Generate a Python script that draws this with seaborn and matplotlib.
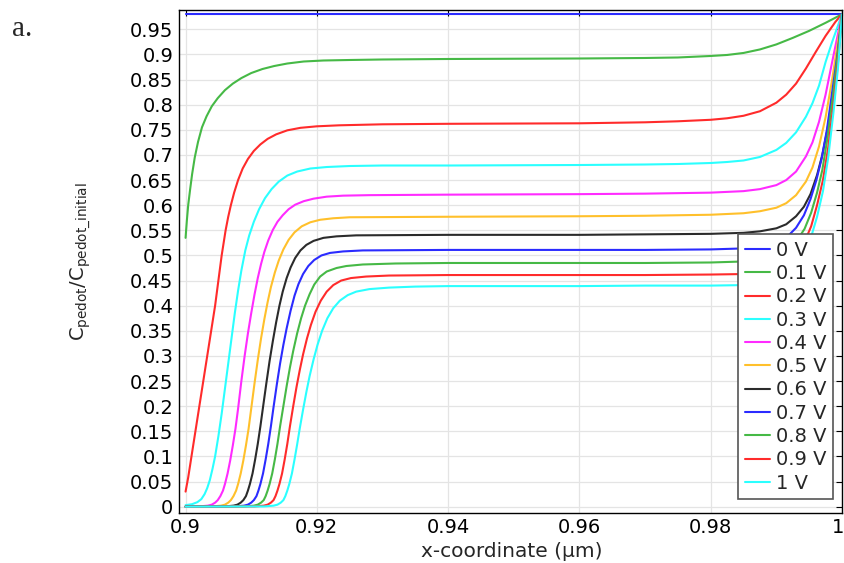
import numpy as np
import pandas as pd
import matplotlib
matplotlib.use("Agg")
import matplotlib.pyplot as plt
from matplotlib.transforms import ScaledTranslation
import seaborn as sns

# values (x in um, y = C_pedot / C_pedot_initial)
labels = ["0 V", "0.1 V", "0.2 V", "0.3 V", "0.4 V", "0.5 V",
          "0.6 V", "0.7 V", "0.8 V", "0.9 V", "1 V"]
colors = ["#2b2bff", "#46b946", "#ff2b2b", "#2bffff", "#ff2bff", "#ffc02b",
          "#2b2b2b", "#2b2bff", "#46b946", "#ff2b2b", "#2bffff"]

x_00 = [0.9, 1.0]
y_00 = [0.98, 0.98]

x_01 = [0.9, 0.9002, 0.9004, 0.9007, 0.901, 0.9014, 0.9019, 0.9025, 0.9032, 0.904,
        0.9049, 0.906, 0.9072, 0.9085, 0.91, 0.9117, 0.9135, 0.9155, 0.918, 0.921,
        0.925, 0.93, 0.94, 0.96, 0.97, 0.975, 0.98, 0.9825, 0.985, 0.9875,
        0.99, 0.9925, 0.995, 0.9975, 1.0]
y_01 = [0.535, 0.57, 0.60, 0.632, 0.662, 0.695, 0.726, 0.755, 0.777, 0.797,
        0.813, 0.829, 0.842, 0.853, 0.863, 0.871, 0.877, 0.882, 0.886, 0.888,
        0.889, 0.890, 0.891, 0.892, 0.893, 0.894, 0.897, 0.899, 0.903, 0.910,
        0.920, 0.933, 0.947, 0.963, 0.98]

x_02 = [0.9, 0.9004, 0.9009, 0.9015, 0.9021, 0.9027, 0.9033, 0.9039, 0.9045, 0.905,
        0.9055, 0.9061, 0.9065, 0.9069, 0.9074, 0.908, 0.9087, 0.9095, 0.9104, 0.9114,
        0.9125, 0.9138, 0.9155, 0.9175, 0.92, 0.9234, 0.93, 0.94, 0.96, 0.97,
        0.975, 0.98, 0.9825, 0.985, 0.9875, 0.99, 0.9915, 0.993, 0.9945, 0.996,
        0.9975, 0.999, 1.0]
y_02 = [0.030, 0.058, 0.10, 0.15, 0.20, 0.25, 0.30, 0.35, 0.40, 0.45,
        0.50, 0.55, 0.577, 0.60, 0.625, 0.65, 0.673, 0.692, 0.708, 0.721,
        0.732, 0.741, 0.749, 0.754, 0.757, 0.759, 0.761, 0.762, 0.763, 0.765,
        0.767, 0.770, 0.773, 0.778, 0.787, 0.804, 0.82, 0.842, 0.872, 0.905,
        0.937, 0.965, 0.98]

x_03 = [0.9, 0.901, 0.9018, 0.9024, 0.9029, 0.9033, 0.9037, 0.9041, 0.9045, 0.905,
        0.9055, 0.906, 0.9065, 0.907, 0.9075, 0.908, 0.9085, 0.9091, 0.9097, 0.9104,
        0.9112, 0.9121, 0.9131, 0.9142, 0.9155, 0.917, 0.919, 0.9215, 0.925, 0.93,
        0.94, 0.96, 0.97, 0.975, 0.98, 0.9825, 0.985, 0.9875, 0.99, 0.9915,
        0.993, 0.9945, 0.9955, 0.9965, 0.9975, 0.9985, 1.0]
y_03 = [0.003, 0.005, 0.009, 0.015, 0.025, 0.037, 0.053, 0.075, 0.10, 0.14,
        0.185, 0.235, 0.285, 0.335, 0.385, 0.43, 0.47, 0.51, 0.54, 0.567,
        0.592, 0.614, 0.632, 0.647, 0.659, 0.667, 0.673, 0.676, 0.678, 0.679,
        0.679, 0.680, 0.681, 0.682, 0.684, 0.686, 0.689, 0.696, 0.71, 0.724,
        0.745, 0.776, 0.803, 0.838, 0.885, 0.925, 0.98]

x_04 = [0.9, 0.902, 0.9034, 0.904, 0.9045, 0.9049, 0.9053, 0.9057, 0.906, 0.9064,
        0.9068, 0.9072, 0.9076, 0.908, 0.9085, 0.909, 0.9095, 0.91, 0.9105, 0.911,
        0.9115, 0.912, 0.9126, 0.9133, 0.914, 0.9148, 0.9157, 0.9167, 0.918, 0.9195,
        0.9215, 0.924, 0.928, 0.94, 0.96, 0.97, 0.975, 0.98, 0.985, 0.9875,
        0.99, 0.9915, 0.993, 0.9945, 0.9955, 0.9965, 0.9975, 0.9985, 1.0]
y_04 = [0.0, 0.0005, 0.002, 0.004, 0.008, 0.013, 0.021, 0.032, 0.045, 0.066,
        0.092, 0.122, 0.155, 0.195, 0.25, 0.30, 0.345, 0.385, 0.422, 0.455,
        0.483, 0.507, 0.53, 0.551, 0.567, 0.58, 0.592, 0.601, 0.608, 0.613,
        0.617, 0.619, 0.620, 0.621, 0.622, 0.623, 0.624, 0.625, 0.628, 0.632,
        0.64, 0.65, 0.667, 0.697, 0.725, 0.766, 0.82, 0.885, 0.98]

x_05 = [0.9, 0.904, 0.9054, 0.906, 0.9065, 0.9069, 0.9073, 0.9077, 0.908, 0.9084,
        0.9088, 0.9092, 0.9096, 0.91, 0.9105, 0.911, 0.9115, 0.912, 0.9125, 0.913,
        0.9136, 0.9142, 0.9149, 0.9157, 0.9166, 0.9177, 0.919, 0.9205, 0.9225, 0.925,
        0.94, 0.96, 0.97, 0.975, 0.98, 0.985, 0.9875, 0.99, 0.9915, 0.993,
        0.9945, 0.9955, 0.9965, 0.9975, 0.9985, 1.0]
y_05 = [0.0, 0.0005, 0.002, 0.004, 0.008, 0.013, 0.021, 0.032, 0.045, 0.066,
        0.092, 0.122, 0.155, 0.195, 0.245, 0.292, 0.335, 0.373, 0.407, 0.437,
        0.466, 0.49, 0.512, 0.531, 0.546, 0.558, 0.566, 0.571, 0.574, 0.576,
        0.577, 0.578, 0.579, 0.58, 0.581, 0.584, 0.588, 0.595, 0.604, 0.62,
        0.647, 0.675, 0.717, 0.775, 0.85, 0.98]

x_06 = [0.9, 0.906, 0.9073, 0.9079, 0.9084, 0.9088, 0.9092, 0.9095, 0.9098, 0.9102,
        0.9106, 0.911, 0.9114, 0.9118, 0.9123, 0.9128, 0.9133, 0.9138, 0.9143, 0.9148,
        0.9154, 0.916, 0.9167, 0.9175, 0.9184, 0.9195, 0.921, 0.923, 0.926, 0.94,
        0.96, 0.97, 0.98, 0.985, 0.9875, 0.99, 0.9915, 0.993, 0.9942, 0.9952,
        0.9962, 0.997, 0.9978, 0.9986, 0.9993, 1.0]
y_06 = [0.0, 0.0005, 0.002, 0.004, 0.008, 0.013, 0.021, 0.032, 0.045, 0.066,
        0.094, 0.125, 0.16, 0.198, 0.245, 0.29, 0.33, 0.367, 0.40, 0.428,
        0.455, 0.476, 0.495, 0.51, 0.521, 0.529, 0.535, 0.538, 0.54, 0.541,
        0.541, 0.542, 0.543, 0.545, 0.548, 0.554, 0.562, 0.578, 0.597, 0.622,
        0.66, 0.70, 0.752, 0.82, 0.89, 0.98]

x_07 = [0.9, 0.9075, 0.9089, 0.9095, 0.91, 0.9104, 0.9108, 0.9111, 0.9114, 0.9118,
        0.9122, 0.9126, 0.913, 0.9134, 0.9139, 0.9144, 0.9149, 0.9154, 0.916, 0.9166,
        0.9172, 0.9179, 0.9187, 0.9196, 0.9207, 0.922, 0.924, 0.927, 0.94, 0.96,
        0.97, 0.98, 0.985, 0.9875, 0.99, 0.9915, 0.993, 0.9942, 0.9952, 0.9961,
        0.9969, 0.9977, 0.9985, 0.9993, 1.0]
y_07 = [0.0, 0.0005, 0.002, 0.004, 0.008, 0.013, 0.021, 0.032, 0.045, 0.066,
        0.094, 0.125, 0.16, 0.198, 0.243, 0.285, 0.322, 0.355, 0.39, 0.42,
        0.443, 0.463, 0.479, 0.491, 0.50, 0.505, 0.508, 0.51, 0.511, 0.511,
        0.511, 0.512, 0.514, 0.517, 0.523, 0.535, 0.555, 0.58, 0.612, 0.65,
        0.693, 0.75, 0.825, 0.90, 0.98]

x_08 = [0.9, 0.909, 0.9104, 0.911, 0.9115, 0.9119, 0.9122, 0.9125, 0.9128, 0.9132,
        0.9136, 0.914, 0.9144, 0.9149, 0.9154, 0.9159, 0.9164, 0.917, 0.9176, 0.9182,
        0.9189, 0.9196, 0.9205, 0.9215, 0.923, 0.9245, 0.927, 0.932, 0.94, 0.96,
        0.97, 0.98, 0.985, 0.9875, 0.99, 0.9915, 0.993, 0.9943, 0.9953, 0.9962,
        0.997, 0.9978, 0.9986, 0.9993, 1.0]
y_08 = [0.0, 0.0005, 0.002, 0.004, 0.008, 0.013, 0.021, 0.032, 0.045, 0.066,
        0.094, 0.125, 0.16, 0.20, 0.24, 0.277, 0.31, 0.345, 0.375, 0.40,
        0.423, 0.442, 0.458, 0.468, 0.475, 0.479, 0.482, 0.484, 0.485, 0.485,
        0.485, 0.486, 0.488, 0.491, 0.497, 0.508, 0.527, 0.553, 0.585, 0.625,
        0.67, 0.735, 0.815, 0.895, 0.98]

x_09 = [0.9, 0.9105, 0.9119, 0.9125, 0.913, 0.9134, 0.9137, 0.914, 0.9143, 0.9147,
        0.9151, 0.9155, 0.9159, 0.9164, 0.9169, 0.9174, 0.9179, 0.9185, 0.9191, 0.9198,
        0.9206, 0.9215, 0.9225, 0.9237, 0.9252, 0.9275, 0.931, 0.94, 0.96, 0.97,
        0.98, 0.985, 0.9875, 0.99, 0.9915, 0.993, 0.9943, 0.9953, 0.9962, 0.9971,
        0.9979, 0.9987, 0.9994, 1.0]
y_09 = [0.0, 0.0005, 0.002, 0.004, 0.008, 0.013, 0.021, 0.032, 0.045, 0.066,
        0.094, 0.125, 0.16, 0.20, 0.238, 0.272, 0.303, 0.335, 0.362, 0.388,
        0.41, 0.428, 0.441, 0.45, 0.455, 0.458, 0.46, 0.461, 0.461, 0.461,
        0.462, 0.463, 0.466, 0.472, 0.482, 0.50, 0.527, 0.558, 0.60, 0.65,
        0.715, 0.80, 0.885, 0.98]

x_10 = [0.9, 0.912, 0.9134, 0.914, 0.9145, 0.9149, 0.9152, 0.9155, 0.9158, 0.9162,
        0.9166, 0.917, 0.9174, 0.9179, 0.9184, 0.9189, 0.9195, 0.9201, 0.9208, 0.9216,
        0.9225, 0.9235, 0.9247, 0.926, 0.928, 0.931, 0.935, 0.94, 0.96, 0.97,
        0.98, 0.985, 0.9875, 0.99, 0.9915, 0.993, 0.9943, 0.9953, 0.9962, 0.9971,
        0.9979, 0.9987, 0.9994, 1.0]
y_10 = [0.0, 0.0005, 0.002, 0.004, 0.008, 0.013, 0.021, 0.032, 0.045, 0.066,
        0.094, 0.124, 0.156, 0.193, 0.228, 0.26, 0.293, 0.322, 0.35, 0.375,
        0.395, 0.41, 0.421, 0.428, 0.433, 0.436, 0.438, 0.439, 0.439, 0.44,
        0.44, 0.441, 0.444, 0.45, 0.46, 0.478, 0.505, 0.537, 0.577, 0.628,
        0.695, 0.785, 0.875, 0.98]

xs = [x_00, x_01, x_02, x_03, x_04, x_05, x_06, x_07, x_08, x_09, x_10]
ys = [y_00, y_01, y_02, y_03, y_04, y_05, y_06, y_07, y_08, y_09, y_10]

frames = []
for lab, xv, yv in zip(labels, xs, ys):
    frames.append(pd.DataFrame({"x": xv, "y": yv, "voltage": lab}))
df = pd.concat(frames, ignore_index=True)

sns.set_style("white")
plt.rcParams["font.family"] = ["DejaVu Sans"]
plt.rcParams["mathtext.default"] = "regular"

fig = plt.figure(figsize=(8.45, 5.63), dpi=100)
ax = fig.add_axes([179 / 845, 1 - 512.7 / 563, (842 - 179) / 845, (512.7 - 10) / 563])

sns.lineplot(data=df, x="x", y="y", hue="voltage", hue_order=labels,
             palette=colors, sort=False, estimator=None, linewidth=1.5, ax=ax)

ax.set_xlim(0.899, 1.0)
ax.set_ylim(-0.012, 0.9885)
ax.set_xticks(np.arange(0.9, 1.001, 0.02))
ax.set_xticklabels(["0.9", "0.92", "0.94", "0.96", "0.98", "1"])
yt = np.round(np.arange(0, 0.951, 0.05), 2)
ax.set_yticks(yt)
ax.set_yticklabels([("%g" % v) for v in yt])
ax.tick_params(direction="in", length=4, width=0.8, top=True, right=True,
               labelsize=14, pad=4, colors="black")
ax.grid(True, color="#e4e4e4", linewidth=0.9)
ax.set_axisbelow(True)
for s in ax.spines.values():
    s.set_color("black")
    s.set_linewidth(1.0)

# keep the "1" label inside the picture
last = ax.get_xticklabels()[-1]
last.set_transform(last.get_transform() + ScaledTranslation(-3 / 72, 0, fig.dpi_scale_trans))

ax.set_xlabel("x-coordinate (µm)", fontsize=14.5)
ax.set_ylabel(r"$C_{pedot}/C_{pedot\_initial}$", fontsize=14)
ax.xaxis.set_label_coords(0.502, -0.058)
ax.yaxis.set_label_coords(-0.130, 0.5)

sns.move_legend(ax, "upper left", bbox_to_anchor=(0.8427, 0.5544), title="",
                fontsize=14, frameon=True, fancybox=False, shadow=False,
                edgecolor="#555555", framealpha=1, borderaxespad=0,
                borderpad=0.35, labelspacing=0.22, handlelength=1.3,
                handletextpad=0.3)
ax.get_legend().get_frame().set_linewidth(1.2)

fig.text(0.014, 0.949, "a.", fontsize=21, family="Liberation Serif", va="center")

fig.savefig("out.png", dpi=100)
